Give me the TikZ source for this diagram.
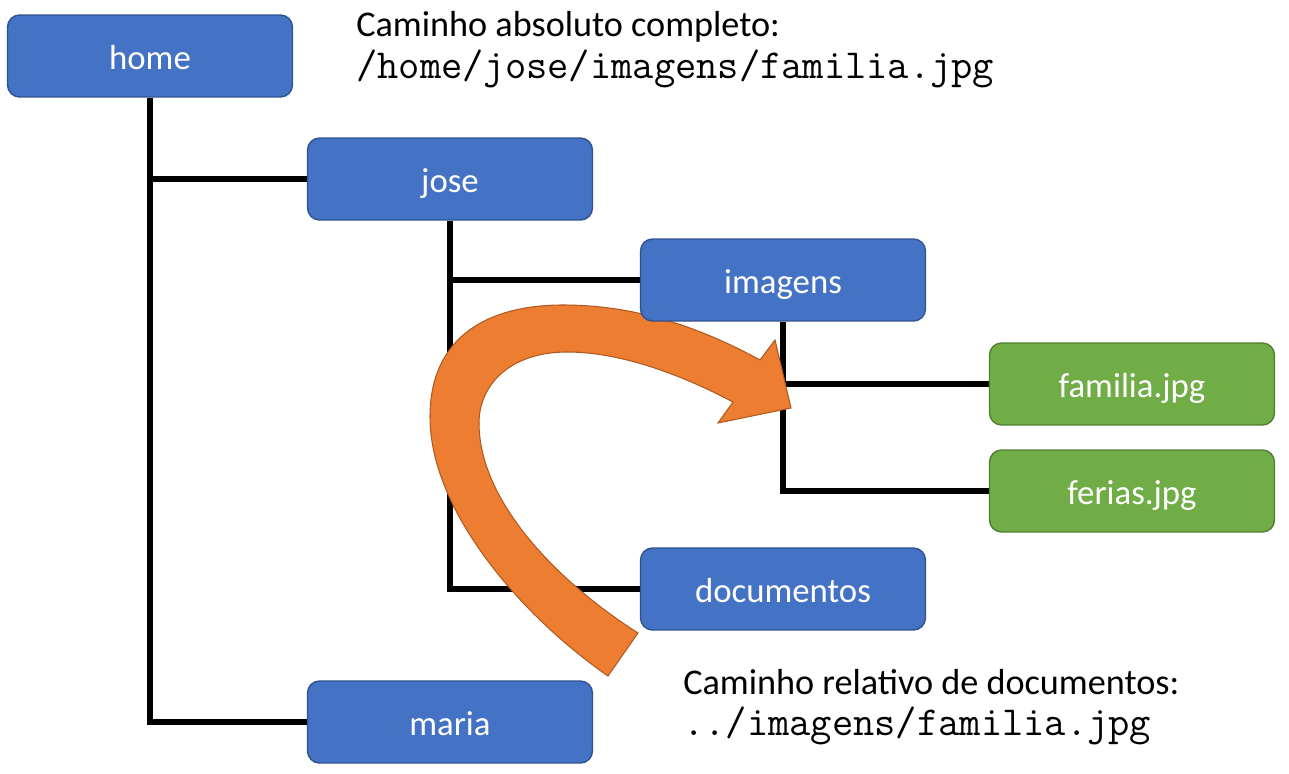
\documentclass[tikz,border=0pt]{standalone}
\usepackage{fontspec}
\setmainfont{Carlito}
\usetikzlibrary{backgrounds}

\definecolor{azul}{HTML}{4472C4}
\definecolor{azulbd}{HTML}{2F528F}
\definecolor{verde}{HTML}{70AD47}
\definecolor{verdebd}{HTML}{507E32}
\definecolor{laranja}{HTML}{ED7D31}
\definecolor{laranjabd}{HTML}{AE5A21}

\begin{document}
\begin{tikzpicture}[x=0.02cm,y=-0.02cm,
  pasta/.style={draw=azulbd, fill=azul, line width=0.8pt, rounded corners=0.24cm,
    minimum width=5.7cm, minimum height=1.64cm, text=white,
    font=\fontsize{19.8}{24}\selectfont, text height=18.4pt, text depth=3.4pt},
  arquivo/.style={pasta, draw=verdebd, fill=verde},
  ramo/.style={draw, line width=3.2pt},
  rotulo/.style={inner sep=0pt, anchor=base west, font=\fontsize{20.6}{24}\selectfont},
  caminho/.style={inner sep=0pt, anchor=base west, font=\ttfamily\fontsize{23.5}{26}\selectfont}]
\useasboundingbox (0,0) rectangle (1289,774);

\node[pasta] (home) at (150,56) {home};
\node[pasta] (jose) at (450,179) {jose};
\node[pasta] (imagens) at (783,280) {imagens};
\node[arquivo] (familia) at (1132,384) {familia.jpg};
\node[arquivo] (ferias) at (1132,491) {ferias.jpg};
\node[pasta] (documentos) at (783,589) {documentos};
\node[pasta] (maria) at (450,722) {maria};

\node[rotulo] (absoluto) at (356,36) {Caminho absoluto completo:};
\node[caminho] (absolutopath) at (356,78) {/home/jose/imagens/familia.jpg};
\node[rotulo] (relativo) at (683,694) {Caminho relativo de documentos:};
\node[caminho] (relativopath) at (683,735) {../imagens/familia.jpg};

\begin{pgfonlayer}{background}
\path[ramo] (home.south) |- (maria.west);
\path[ramo] (home.south |- jose.west) -- (jose.west);
\path[ramo] (jose.south) |- (documentos.west);
\path[ramo] (jose.south |- imagens.west) -- (imagens.west);
\path[ramo] (imagens.south) |- (ferias.west);
\path[ramo] (imagens.south |- familia.west) -- (familia.west);

% seta do caminho relativo
\path[fill=laranja, draw=laranjabd, line width=0.6pt, line join=miter]
  (608,676) .. controls (520,615) and (430,510) .. (430,417)
  .. controls (430,335) and (490,305) .. (563,305)
  .. controls (640,305) and (705,330) .. (760,360)
  -- (775,340) -- (791,408) -- (718,423) -- (733,402)
  .. controls (680,374) and (620,352) .. (567,352)
  .. controls (510,352) and (479,385) .. (479,423)
  .. controls (479,500) and (555,580) .. (638,633) -- cycle;
\end{pgfonlayer}
\end{tikzpicture}
\end{document}
